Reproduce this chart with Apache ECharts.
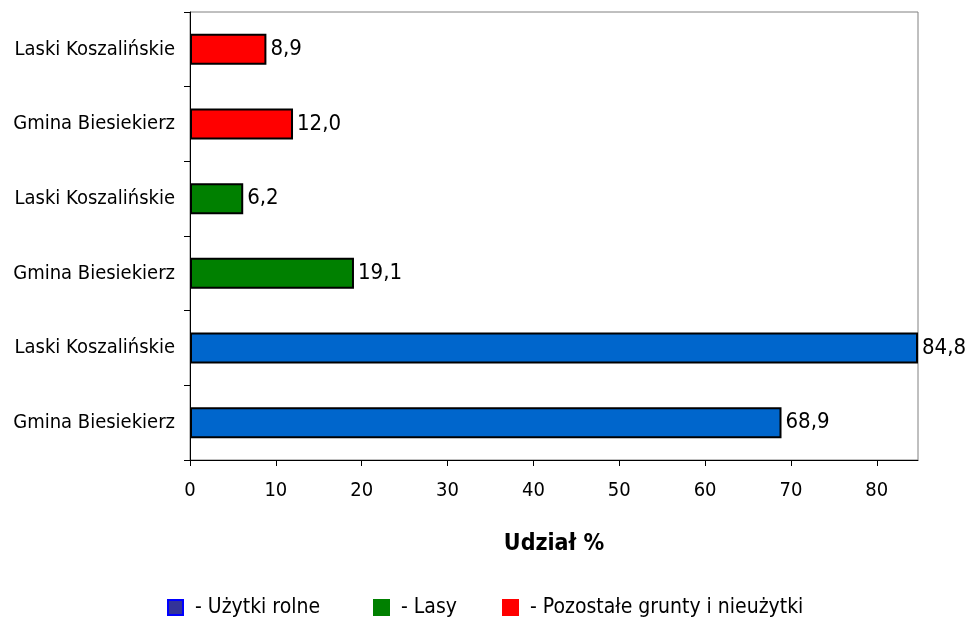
<!DOCTYPE html>
<html><head><meta charset="utf-8">
<script src="https://cdn.jsdelivr.net/npm/echarts@6/dist/echarts.min.js"></script>
<style>html,body{margin:0;padding:0;background:#fff}#c{width:968px;height:617px}</style>
</head><body><div id="c"></div>
<script>
// categories bottom -> top
const categories = ['Gmina Biesiekierz','Laski Koszalińskie','Gmina Biesiekierz','Laski Koszalińskie','Gmina Biesiekierz','Laski Koszalińskie'];
const seriesNames = ['- Użytki rolne','- Lasy','- Pozostałe grunty i nieużytki'];
const uzytkiRolne = [68.9, 84.8, '-', '-', '-', '-'];
const lasy = ['-', '-', 19.1, 6.2, '-', '-'];
const pozostale = ['-', '-', '-', '-', 12.0, 8.9];
const xTicks = [0,10,20,30,40,50,60,70,80];
const xMax = 84.8;
const axisName = 'Udział %';

const FONT = '"DejaVu Sans Condensed", "DejaVu Sans", sans-serif';
const colors = ['#0066CC','#008000','#FF0000'];
const legendColors = [{color:'#333399',borderColor:'#0000FF'},{color:'#008000',borderColor:'#008000'},{color:'#FF0000',borderColor:'#FF0000'}];
const legendLeft = [167, 373, 502];
const fmt = v => v.toFixed(1).replace('.', ',');

function mk(name, data, i){
  return {
    name, type:'bar', stack:'s', data, barWidth:31,
    itemStyle:{color:colors[i], borderColor:'#000', borderWidth:2},
    label:{show:true, position:'right', distance:4, color:'#000', fontFamily:FONT, fontSize:22,
      formatter:p=>fmt(p.value)}
  };
}
const chart = echarts.init(document.getElementById('c'), null, {renderer:'canvas'});
chart.setOption({
  animation:false,
  textStyle:{fontFamily:FONT},
  grid:{left:190, right:50, top:12, bottom:157, show:true, borderColor:'#808080', borderWidth:1},
  xAxis:{type:'value', min:0, max:xMax, interval:10,
    name:axisName, nameLocation:'middle', nameGap:73,
    nameTextStyle:{fontFamily:FONT, fontSize:23, fontWeight:'bold', color:'#000'},
    axisLine:{show:true, lineStyle:{color:'#000', width:1}},
    axisTick:{show:true, length:6, lineStyle:{color:'#000'}, customValues:xTicks},
    axisLabel:{color:'#000', fontFamily:FONT, fontSize:20, margin:21, customValues:xTicks},
    splitLine:{show:false}},
  yAxis:{type:'category', data:categories.map((c,i)=>String(i)),
    axisLine:{show:true, lineStyle:{color:'#000', width:1}},
    axisTick:{show:true, length:6, lineStyle:{color:'#000'}},
    axisLabel:{color:'#000', fontFamily:FONT, fontSize:20, margin:15, padding:[4,0,0,0], formatter:v=>categories[+v]}},
  legend:seriesNames.map((n,i)=>({top:597, left:legendLeft[i], padding:0, itemWidth:15, itemHeight:15, icon:'rect',
    textStyle:{fontFamily:FONT, fontSize:21, color:'#000', padding:[0,0,0,7]},
    data:[{name:n, itemStyle:{color:legendColors[i].color, borderColor:legendColors[i].borderColor, borderWidth:2}}]})),
  series:[mk(seriesNames[0], uzytkiRolne, 0), mk(seriesNames[1], lasy, 1), mk(seriesNames[2], pozostale, 2)]
});
</script></body></html>
